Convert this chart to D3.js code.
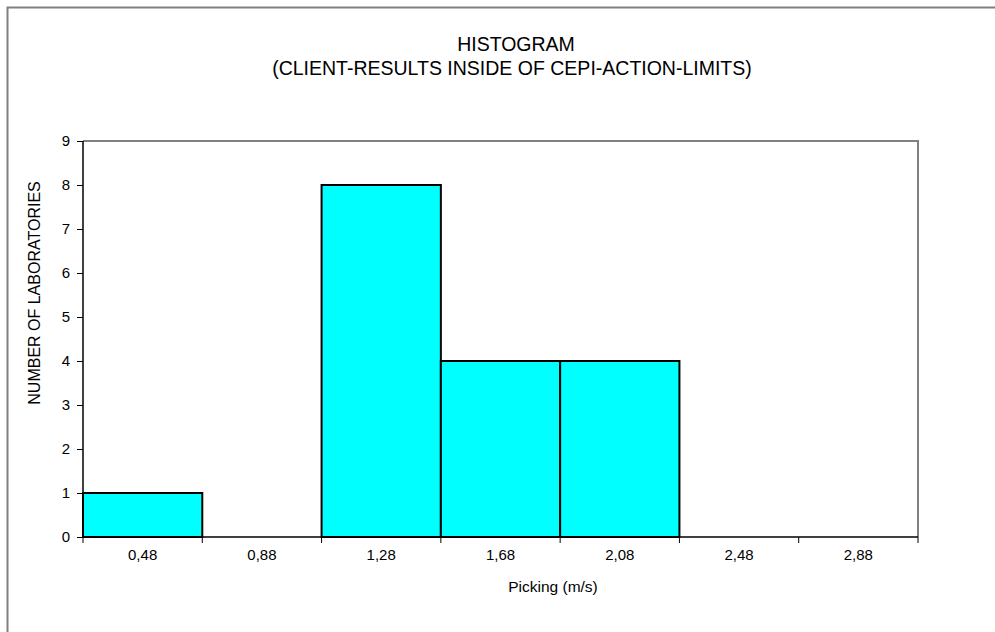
<!DOCTYPE html>
<html>
<head>
<meta charset="utf-8">
<script src="https://cdn.jsdelivr.net/npm/d3@7"></script>
<style>
  html, body { margin: 0; padding: 0; background: #fff; }
  svg { display: block; }
  text { font-family: "Liberation Sans", Arial, sans-serif; fill: #000; }
</style>
</head>
<body>
<svg id="chart" width="995" height="632"></svg>
<script>
const categories = ["0,48", "0,88", "1,28", "1,68", "2,08", "2,48", "2,88"];
const counts = [1, 0, 8, 4, 4, 0, 0];
const yTicks = [0, 1, 2, 3, 4, 5, 6, 7, 8, 9];
const titleLines = ["HISTOGRAM", "(CLIENT-RESULTS INSIDE OF CEPI-ACTION-LIMITS)"];
const xTitle = "Picking (m/s)";
const yTitle = "NUMBER OF LABORATORIES";

const svg = d3.select("#chart");
const plot = { left: 83, right: 918, top: 141, bottom: 537 };

// outer frame
svg.append("rect")
  .attr("x", 7.5).attr("y", 7.5)
  .attr("width", 1010).attr("height", 650)
  .attr("fill", "none").attr("stroke", "#808080").attr("stroke-width", 2);

const x = d3.scaleBand().domain(categories).range([plot.left, plot.right]).paddingInner(0).paddingOuter(0);
const y = d3.scaleLinear().domain([0, 9]).range([plot.bottom, plot.top]);

// plot frame top/right (gray)
svg.append("path")
  .attr("d", `M${plot.left},${plot.top}H${plot.right}V${plot.bottom}`)
  .attr("fill", "none").attr("stroke", "#808080").attr("stroke-width", 2);

// bars
svg.append("g").selectAll("rect")
  .data(categories.map((c, i) => ({ c, v: counts[i] })).filter(d => d.v > 0))
  .join("rect")
  .attr("x", d => x(d.c))
  .attr("y", d => y(d.v))
  .attr("width", x.bandwidth())
  .attr("height", d => y(0) - y(d.v))
  .attr("fill", "#00FFFF")
  .attr("stroke", "#000")
  .attr("stroke-width", 2);

// y axis
const yAxis = d3.axisLeft(y).tickValues(yTicks).tickSize(6).tickPadding(7).tickFormat(d3.format("d"));
const gy = svg.append("g").attr("transform", `translate(${plot.left},0)`).call(yAxis);
gy.select(".domain").attr("stroke", "#000").attr("stroke-width", 1.5).attr("d", `M0,${plot.top}V${plot.bottom}`);
gy.selectAll(".tick line").attr("stroke", "#000");
gy.selectAll(".tick text").style("font-size", "15px").style("font-family", "'Liberation Sans', Arial, sans-serif");

// x axis (ticks at bin boundaries)
const gx = svg.append("g").attr("transform", `translate(0,${plot.bottom})`);
gx.append("line").attr("x1", plot.left).attr("x2", plot.right).attr("y1", 0).attr("y2", 0)
  .attr("stroke", "#000").attr("stroke-width", 1.5);
const boundaries = categories.map(c => x(c)).concat([x(categories[categories.length - 1]) + x.bandwidth()]);
gx.selectAll("line.tk").data(boundaries).join("line").attr("class", "tk")
  .attr("x1", d => d).attr("x2", d => d).attr("y1", 0).attr("y2", 6).attr("stroke", "#000");
gx.selectAll("text").data(categories).join("text")
  .attr("x", d => x(d) + x.bandwidth() / 2)
  .attr("y", 23)
  .attr("text-anchor", "middle")
  .style("font-size", "15px")
  .text(d => d);

// titles
svg.append("text").attr("x", 516).attr("y", 51).attr("text-anchor", "middle")
  .style("font-size", "19.5px").text(titleLines[0]);
svg.append("text").attr("x", 512).attr("y", 75).attr("text-anchor", "middle")
  .style("font-size", "19.5px").text(titleLines[1]);

svg.append("text").attr("x", 553).attr("y", 592).attr("text-anchor", "middle")
  .style("font-size", "15.5px").text(xTitle);

svg.append("text").attr("transform", "translate(40,293) rotate(-90)").attr("text-anchor", "middle")
  .style("font-size", "16px").text(yTitle);
</script>
</body>
</html>
